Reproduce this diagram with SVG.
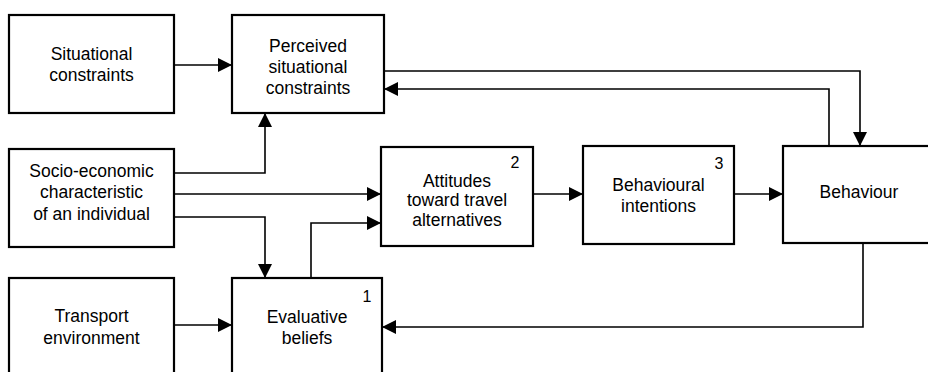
<svg xmlns="http://www.w3.org/2000/svg" width="928" height="372" viewBox="0 0 928 372">
  <style>
    .box { fill: #ffffff; stroke: #000000; stroke-width: 2.2; }
    .lbl { font-family: "Liberation Sans", Arial, sans-serif; font-size: 17.5px; fill: #000000; text-anchor: middle; }
    .num { font-family: "Liberation Sans", Arial, sans-serif; font-size: 16px; fill: #000000; text-anchor: middle; }
    .wire { fill: none; stroke: #000000; stroke-width: 1.6; marker-end: url(#head); }
  </style>
  <defs>
    <marker id="head" markerUnits="userSpaceOnUse" markerWidth="14" markerHeight="14" refX="14" refY="7" orient="auto">
      <path d="M0,0 L14,7 L0,14 Z" fill="#000000"/>
    </marker>
  </defs>
  <rect width="928" height="372" fill="#ffffff"/>

  <!-- connectors: every link ends in a filled arrowhead -->
  <g id="connectors">
    <path class="wire" d="M174,65 H232"/>
    <path class="wire" d="M384,71 H860 V146"/>
    <path class="wire" d="M829,146 V89 H384"/>
    <path class="wire" d="M174,173 H265 V113"/>
    <path class="wire" d="M174,194 H381"/>
    <path class="wire" d="M174,217 H265 V278"/>
    <path class="wire" d="M311,278 V223 H381"/>
    <path class="wire" d="M174,325 H232"/>
    <path class="wire" d="M533,194 H583"/>
    <path class="wire" d="M734,194 H783"/>
    <path class="wire" d="M863,243 V327 H382"/>
  </g>

  <g id="situational-constraints">
    <rect class="box" x="9" y="15" width="165" height="98"/>
    <text class="lbl" x="91.5" y="60">Situational</text>
    <text class="lbl" x="91.5" y="81">constraints</text>
  </g>

  <g id="perceived-constraints">
    <rect class="box" x="232" y="15" width="152" height="98"/>
    <text class="lbl" x="308" y="52">Perceived</text>
    <text class="lbl" x="308" y="73">situational</text>
    <text class="lbl" x="308" y="94">constraints</text>
  </g>

  <g id="socio-economic">
    <rect class="box" x="9" y="149" width="165" height="98"/>
    <text class="lbl" x="91.5" y="177">Socio-economic</text>
    <text class="lbl" x="91.5" y="198">characteristic</text>
    <text class="lbl" x="91.5" y="220">of an individual</text>
  </g>

  <g id="transport-environment">
    <rect class="box" x="9" y="278" width="165" height="110"/>
    <text class="lbl" x="91.5" y="322">Transport</text>
    <text class="lbl" x="91.5" y="344">environment</text>
  </g>

  <g id="evaluative-beliefs">
    <rect class="box" x="232" y="278" width="150" height="110"/>
    <text class="num" x="367" y="302">1</text>
    <text class="lbl" x="307" y="323">Evaluative</text>
    <text class="lbl" x="307" y="344">beliefs</text>
  </g>

  <g id="attitudes">
    <rect class="box" x="381" y="147" width="152" height="99"/>
    <text class="num" x="515" y="168">2</text>
    <text class="lbl" x="457" y="187">Attitudes</text>
    <text class="lbl" x="457" y="206">toward travel</text>
    <text class="lbl" x="457" y="226">alternatives</text>
  </g>

  <g id="behavioural-intentions">
    <rect class="box" x="583" y="146" width="151" height="98"/>
    <text class="num" x="719" y="169">3</text>
    <text class="lbl" x="658.5" y="191">Behavioural</text>
    <text class="lbl" x="658.5" y="212">intentions</text>
  </g>

  <g id="behaviour">
    <rect class="box" x="783" y="146" width="152" height="97"/>
    <text class="lbl" x="859" y="198">Behaviour</text>
  </g>
</svg>
